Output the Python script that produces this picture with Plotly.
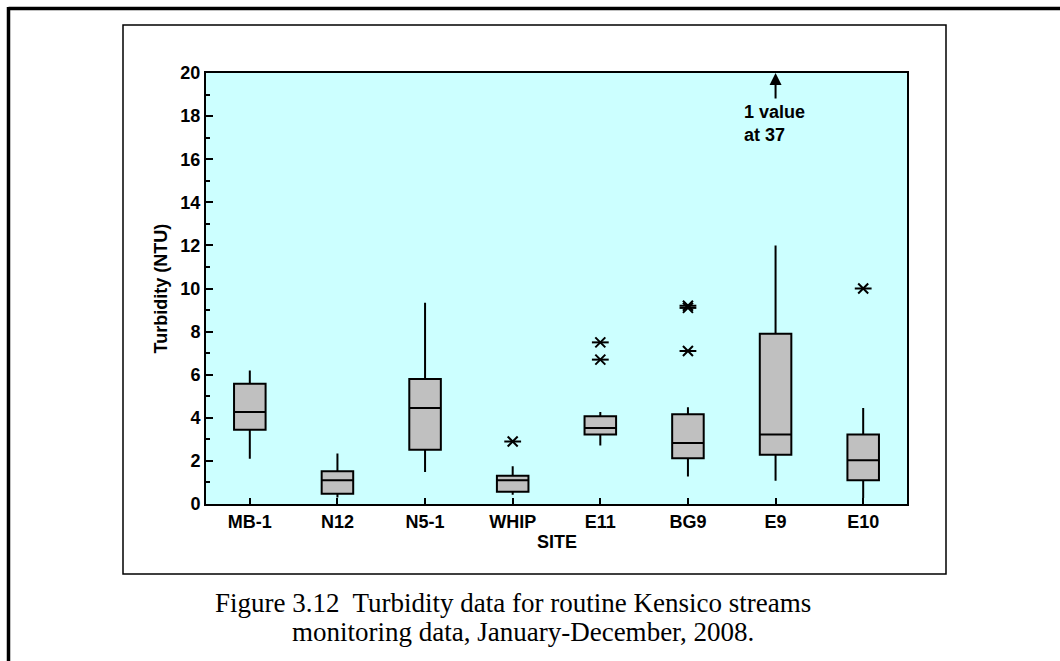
import plotly.graph_objects as go

# ---- data ----
sites = ["MB-1", "N12", "N5-1", "WHIP", "E11", "BG9", "E9", "E10"]
lower_whisker = [2.1, 0.3, 1.48, 0.43, 2.71, 1.28, 1.08, 0.28]
q1 = [3.45, 0.48, 2.52, 0.57, 3.22, 2.12, 2.29, 1.10]
median = [4.27, 1.10, 4.45, 1.10, 3.53, 2.83, 3.22, 2.03]
q3 = [5.58, 1.52, 5.80, 1.31, 4.07, 4.16, 7.90, 3.23]
upper_whisker = [6.2, 2.34, 9.34, 1.75, 4.27, 4.49, 11.99, 4.45]

outlier_sites = ["WHIP", "E11", "E11", "BG9", "BG9", "BG9", "E9", "E10"]
outlier_values = [2.9, 7.5, 6.7, 9.2, 9.1, 7.1, 37, 10.0]

y_ticks = [0, 2, 4, 6, 8, 10, 12, 14, 16, 18, 20]

# ---- layout geometry (pixels) ----
W, H = 1060, 661
L, R, T, B = 206, 153, 73, 157
PW, PH = W - L - R, H - T - B


def px(x):
    return (x - L) / PW


def py(y):
    return (H - B - y) / PH


BOLD = dict(family="Liberation Sans, Arial", size=18, color="black", weight="bold")
SERIF = dict(family="Liberation Serif, Times New Roman", size=27, color="black")

fig = go.Figure()
fig.add_trace(go.Box(
    x=sites, q1=q1, median=median, q3=q3,
    lowerfence=lower_whisker, upperfence=upper_whisker,
    width=0.36, whiskerwidth=0, boxpoints=False,
    fillcolor="#C0C0C0", line=dict(color="black", width=2),
    showlegend=False, hoverinfo="skip",
))
fig.add_trace(go.Scatter(
    x=outlier_sites, y=outlier_values, mode="markers",
    marker=dict(symbol="x-thin-open", size=10, color="black",
                line=dict(color="black", width=2)),
    showlegend=False, cliponaxis=True,
))
fig.add_trace(go.Scatter(
    x=outlier_sites, y=outlier_values, mode="markers",
    marker=dict(symbol="line-ew-open", size=12, color="black",
                line=dict(color="black", width=2)),
    showlegend=False, cliponaxis=True,
))

fig.update_xaxes(
    type="category", categoryorder="array", categoryarray=sites,
    range=[-0.5, len(sites) - 0.5],
    showline=True, linecolor="black", linewidth=2, mirror=True,
    ticks="inside", ticklen=6, tickwidth=2, tickcolor="black",
    showgrid=False, zeroline=False, tickfont=BOLD,
)
fig.update_yaxes(
    range=[0, 20], tickvals=y_ticks,
    showline=True, linecolor="black", linewidth=2, mirror=True,
    ticks="inside", ticklen=7, tickwidth=2, tickcolor="black",
    minor=dict(dtick=1, ticks="inside", ticklen=4, tickwidth=2, tickcolor="black"),
    showgrid=False, zeroline=False, tickfont=BOLD,
)

shapes = [
    # inner chart frame
    dict(type="rect", xref="paper", yref="paper",
         x0=px(123), x1=px(946), y0=py(574), y1=py(25),
         line=dict(color="black", width=1.5), layer="below"),
    # outer page frame
    dict(type="line", xref="paper", yref="paper",
         x0=px(8.5), x1=px(1070), y0=py(8.5), y1=py(8.5),
         line=dict(color="black", width=3.5)),
    dict(type="line", xref="paper", yref="paper",
         x0=px(8.5), x1=px(8.5), y0=py(7), y1=py(680),
         line=dict(color="black", width=3.5)),
]

annotations = [
    dict(text="Turbidity (NTU)", xref="paper", yref="paper", x=px(160), y=0.5,
         textangle=-90, showarrow=False, font=BOLD, xanchor="center", yanchor="middle"),
    dict(text="SITE", xref="paper", yref="paper", x=0.5, y=py(542),
         showarrow=False, font=BOLD, xanchor="center", yanchor="middle"),
    dict(text="", x="E9", y=20, xref="x", yref="y", showarrow=True,
         ax=0, ay=27, arrowhead=2, arrowsize=1.2, arrowwidth=2, arrowcolor="black"),
    dict(text="1 value<br>at 37", xref="paper", yref="paper", x=px(742), y=py(123),
         showarrow=False, font=BOLD, xanchor="left", yanchor="middle", align="left"),
    dict(text="Figure 3.12  Turbidity data for routine Kensico streams",
         xref="paper", yref="paper", x=px(213), y=py(603), showarrow=False,
         xanchor="left", yanchor="middle", font=SERIF),
    dict(text="monitoring data, January-December, 2008.",
         xref="paper", yref="paper", x=px(290), y=py(632), showarrow=False,
         xanchor="left", yanchor="middle", font=SERIF),
]

fig.update_layout(
    width=W, height=H,
    margin=dict(l=L, r=R, t=T, b=B),
    paper_bgcolor="white", plot_bgcolor="#CCFFFF",
    shapes=shapes, annotations=annotations, showlegend=False,
)

fig.write_html("out.html")
